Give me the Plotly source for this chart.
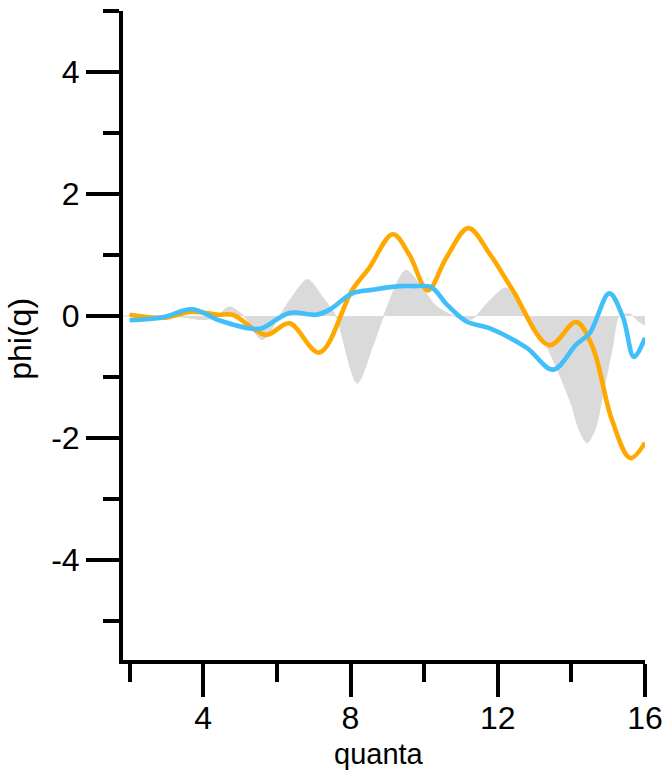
import plotly.graph_objects as go

# gray reference area
gray_x = [1.82, 2.0, 3.0, 3.5, 4.0, 4.35, 4.7, 5.1, 5.6, 6.07, 6.4, 6.83, 7.25, 7.6, 8.18, 8.6, 8.9, 9.5, 9.9, 10.3, 10.8, 11.3, 11.7, 12.23, 12.78, 13.2, 13.6, 14.0, 14.22, 14.43, 14.65, 14.85, 15.12, 15.3, 15.6, 15.85, 16.0]
gray_y = [0.0, 0.0, 0.0, -0.02, -0.06, -0.02, 0.15, 0.0, -0.39, 0.0, 0.3, 0.6, 0.3, 0.0, -1.1, -0.5, 0.0, 0.75, 0.5, 0.18, 0.0, -0.05, 0.2, 0.46, 0.0, -0.35, -0.85, -1.45, -1.88, -2.08, -1.85, -1.3, -0.5, 0.0, 0.03, -0.1, -0.15]

# orange series
orange_x = [2.0, 2.9, 3.7, 4.4, 4.8, 5.7, 6.34, 7.15, 8.05, 8.5, 9.15, 9.6, 10.1, 10.6, 11.2, 11.8, 12.4, 13.4, 14.13, 14.57, 15.1, 15.6, 16.0]
orange_y = [0.02, -0.03, 0.07, 0.02, 0.02, -0.31, -0.12, -0.6, 0.43, 0.78, 1.34, 1.0, 0.42, 0.95, 1.44, 1.0, 0.43, -0.48, -0.1, -0.5, -1.7, -2.33, -2.08]

# blue series
blue_x = [2.0, 2.9, 3.7, 4.43, 5.33, 5.6, 6.34, 7.07, 7.42, 8.05, 8.6, 9.33, 9.68, 10.2, 10.6, 11.15, 11.77, 12.78, 13.5, 14.13, 14.5, 15.03, 15.4, 15.7, 16.0]
blue_y = [-0.07, -0.02, 0.11, -0.07, -0.21, -0.2, 0.05, 0.02, 0.1, 0.37, 0.43, 0.49, 0.49, 0.47, 0.2, -0.09, -0.2, -0.52, -0.88, -0.47, -0.28, 0.37, -0.02, -0.67, -0.36]

x_tickvals = [4, 8, 12, 16]
x_ticktext = ["4", "8", "12", "16"]
y_tickvals = [-4, -2, 0, 2, 4]
y_ticktext = ["-4", "-2", "0", "2", "4"]

x_range = [1.82, 16.0]
y_range = [-5.64, 5.0]

FONT = "Liberation Sans, Arial, Helvetica, sans-serif"

fig = go.Figure()
fig.add_trace(go.Scatter(x=gray_x, y=gray_y, mode="lines", fill="tozeroy",
                         fillcolor="#dadada", line=dict(color="#dadada", width=1, shape="spline", smoothing=0.8),
                         hoverinfo="skip", showlegend=False))
fig.add_trace(go.Scatter(x=orange_x, y=orange_y, mode="lines",
                         line=dict(color="#FFA800", width=4.6, shape="spline", smoothing=1.0), showlegend=False))
fig.add_trace(go.Scatter(x=blue_x, y=blue_y, mode="lines",
                         line=dict(color="#40BFF8", width=4.6, shape="spline", smoothing=1.0), showlegend=False))

tickfont = dict(family=FONT, size=32, color="black")
fig.update_layout(
    width=669, height=771,
    margin=dict(l=123, r=24, t=11, b=111, autoexpand=False),
    plot_bgcolor="white", paper_bgcolor="white",
    xaxis=dict(range=x_range, tickvals=x_tickvals, ticktext=x_ticktext, ticks="outside", ticklen=33, tickwidth=4,
               tickcolor="black", showline=True, linewidth=4, linecolor="black", automargin=False,
               showgrid=False, zeroline=False, tickfont=tickfont, ticklabelstandoff=-6,
               minor=dict(dtick=2, tick0=0, ticks="outside", ticklen=18, tickwidth=4, tickcolor="black")),
    yaxis=dict(range=y_range, tickvals=y_tickvals, ticktext=y_ticktext, ticks="outside", ticklen=33, tickwidth=4,
               tickcolor="black", showline=True, linewidth=4, linecolor="black", automargin=False,
               showgrid=False, zeroline=False, tickfont=tickfont,
               minor=dict(dtick=1, tick0=0, ticks="outside", ticklen=16, tickwidth=4, tickcolor="black")),
    annotations=[
        dict(text="quanta", xref="paper", yref="paper", x=0.49, y=0, yshift=-94,
             xanchor="center", yanchor="middle",
             showarrow=False, font=dict(family=FONT, size=29, color="black")),
        dict(text="phi(q)", xref="paper", yref="paper", x=0, y=0.495, xshift=-103,
             xanchor="center", yanchor="middle",
             textangle=-90, showarrow=False, font=dict(family=FONT, size=32, color="black")),
    ],
)
fig.write_html("out.html")
